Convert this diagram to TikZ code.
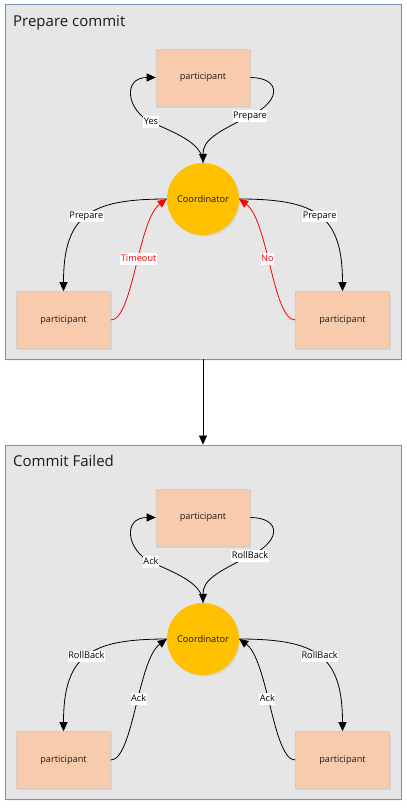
\documentclass[tikz,border=0pt]{standalone}
\usepackage{fontspec}
\setmainfont{Open Sans}
\usetikzlibrary{arrows.meta,shadows}
\definecolor{panelfill}{HTML}{E6E6E6}
\definecolor{panelline}{HTML}{7395BD}
\definecolor{partfill}{HTML}{F8CBAD}
\definecolor{partline}{HTML}{D8CCC2}
\definecolor{coordfill}{HTML}{FFC000}
\definecolor{redline}{HTML}{FF0000}
\definecolor{txt}{HTML}{1A1A1A}
\tikzset{
  panel/.style={draw=panelline, fill=panelfill, line width=0.9pt, minimum width=396pt, inner sep=0pt,
    drop shadow={opacity=0.12, shadow xshift=1pt, shadow yshift=-1.5pt}},
  part/.style={draw=partline, fill=partfill, line width=0.6pt, minimum width=94pt, minimum height=57pt,
    inner sep=0pt, text=txt, font=\fontsize{9.2}{11}\selectfont,
    drop shadow={opacity=0.15, shadow xshift=1pt, shadow yshift=-1.5pt}},
  coordnode/.style={circle, fill=coordfill, minimum size=72pt, inner sep=0pt, text=txt,
    font=\fontsize{9.2}{11}\selectfont,
    drop shadow={opacity=0.15, shadow xshift=1pt, shadow yshift=-1.5pt}},
  conn/.style={line width=0.8pt, draw=black, -{Triangle[length=9pt,width=8pt]}},
  redconn/.style={line width=0.8pt, draw=redline, -{Triangle[length=9pt,width=8pt]}},
  lbl/.style={fill=white, inner xsep=0.6pt, inner ysep=1pt, text height=7pt, text depth=2.2pt,
    text=black, font=\fontsize{9.2}{11}\selectfont},
  title/.style={anchor=base west, inner sep=0pt, text=txt, font=\fontsize{15}{18}\selectfont}
}
\begin{document}
\begin{tikzpicture}[x=1pt,y=-1pt]
\useasboundingbox (0,0) rectangle (407,809);
% panels
\node[panel, minimum height=355pt] (p1) at (203,181.5) {};
\node[panel, minimum height=354pt] (p2) at (203,622) {};
\node[title] (t1title) at (13,26.5) {Prepare commit};
\node[title] (t2title) at (13,466.5) {Commit Failed};
\draw[conn] (p1.south) -- (p2.north);

% ---------- panel 1 ----------
\node[part] (pt1) at (203,77.5) {participant};
\node[coordnode] (c1) at (203,199) {Coordinator};
\node[part] (pl1) at (63.5,320) {participant};
\node[part] (pr1) at (342.5,320) {participant};

\draw[conn] (c1.north) .. controls (203,143) and (175,133) .. (151,122) node[lbl] {Yes}
  .. controls (127,111) and (122,77.5) .. (pt1.west);
\draw[conn] (pt1.east) .. controls (280,77.5) and (283,100) .. (250,116) node[lbl] {Prepare}
  .. controls (217,132) and (203,140) .. (c1.north);
\draw[conn] (c1.west) .. controls (90,199) and (63.5,215) .. (pl1.north) node[lbl,pos=0.5] {Prepare};
\draw[conn] (c1.east) .. controls (316,199) and (342.5,215) .. (pr1.north) node[lbl,pos=0.5] {Prepare};
\draw[redconn] (pl1.east) .. controls (133,320) and (138,220) .. (c1.west)
  node[lbl,pos=0.55,text=redline] {Timeout};
\draw[redconn] (pr1.west) .. controls (273,320) and (268,220) .. (c1.east)
  node[lbl,pos=0.55,text=redline] {No};

% ---------- panel 2 ----------
\begin{scope}[shift={(0,440)}]
\node[part] (pt2) at (203,77.5) {participant};
\node[coordnode] (c2) at (203,199) {Coordinator};
\node[part] (pl2) at (63.5,320) {participant};
\node[part] (pr2) at (342.5,320) {participant};

\draw[conn] (c2.north) .. controls (203,143) and (175,133) .. (151,122) node[lbl] {Ack}
  .. controls (127,111) and (122,77.5) .. (pt2.west);
\draw[conn] (pt2.east) .. controls (280,77.5) and (283,100) .. (250,116) node[lbl] {RollBack}
  .. controls (217,132) and (203,140) .. (c2.north);
\draw[conn] (c2.west) .. controls (90,199) and (63.5,215) .. (pl2.north) node[lbl,pos=0.5] {RollBack};
\draw[conn] (c2.east) .. controls (316,199) and (342.5,215) .. (pr2.north) node[lbl,pos=0.5] {RollBack};
\draw[conn] (pl2.east) .. controls (133,320) and (138,220) .. (c2.west)
  node[lbl,pos=0.55] {Ack};
\draw[conn] (pr2.west) .. controls (273,320) and (268,220) .. (c2.east)
  node[lbl,pos=0.55] {Ack};
\end{scope}
\end{tikzpicture}
\end{document}
